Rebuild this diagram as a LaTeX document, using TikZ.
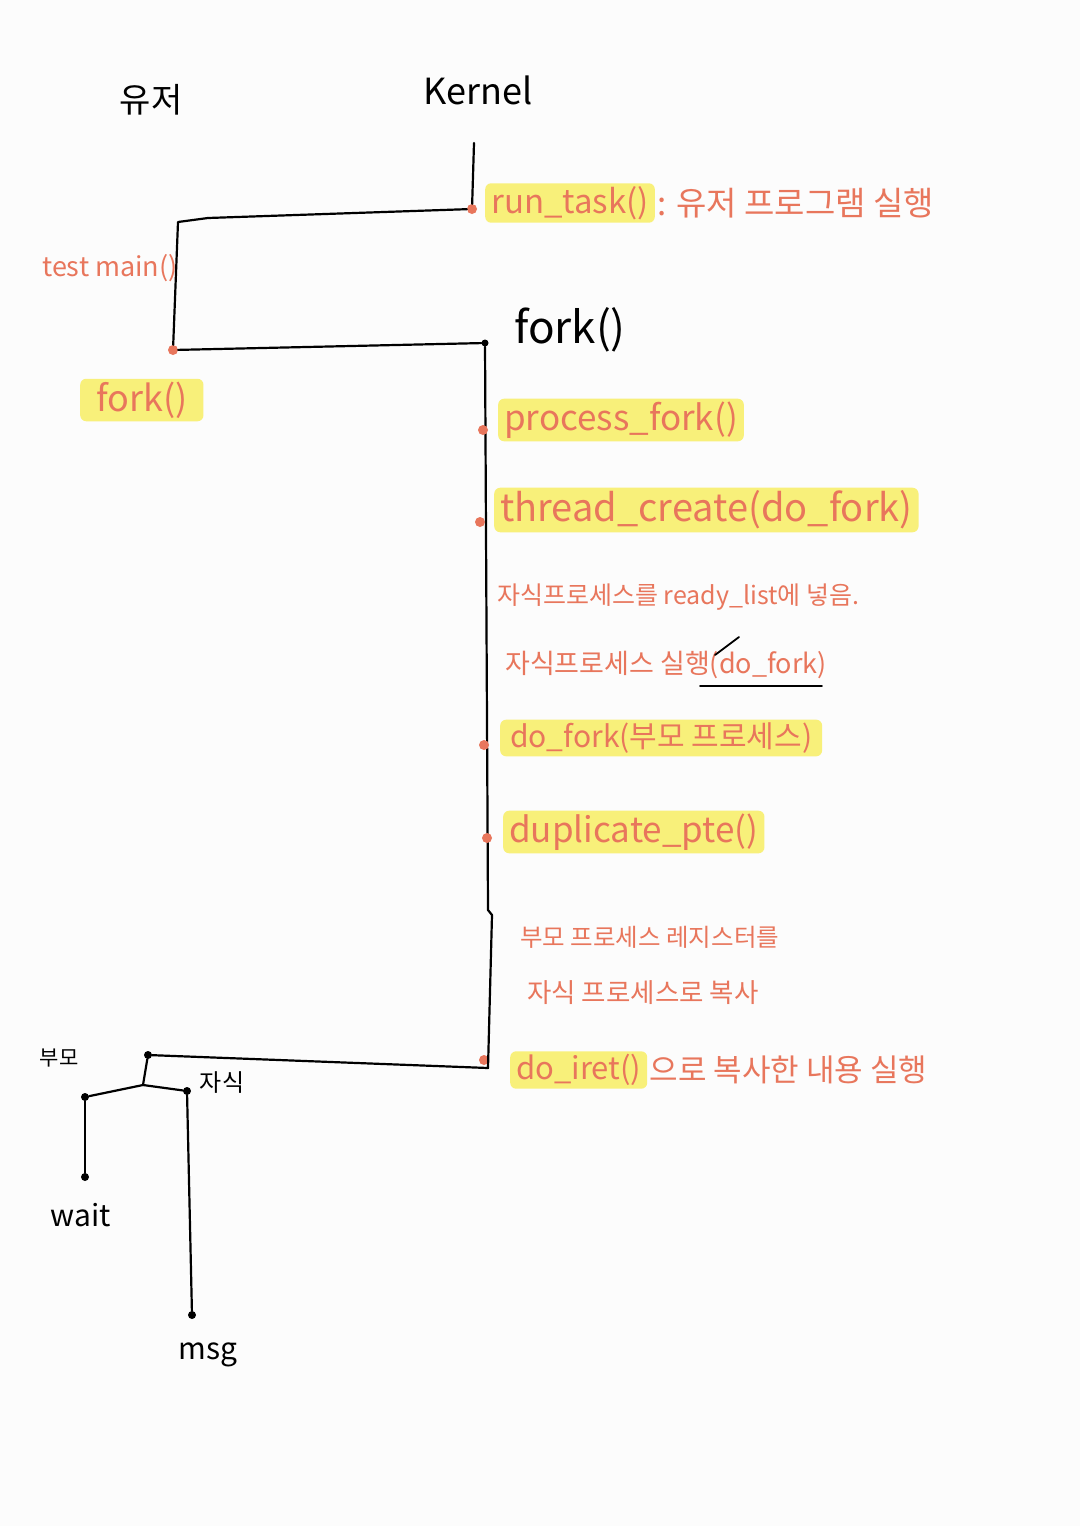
\documentclass[tikz,border=0pt]{standalone}
\usepackage{fontspec}
\setmainfont{Noto Sans CJK KR}
\definecolor{ink}{HTML}{E8765C}
\definecolor{hl}{HTML}{F8F07A}
\definecolor{paper}{HTML}{FCFCFC}
\newcommand{\fs}[1]{\fontsize{#1}{#1}\selectfont}
\begin{document}
\begin{tikzpicture}[x=1pt,y=-1pt,
  wire/.style={line width=2.2pt,black,line cap=round,line join=round},
  odot/.style={circle,fill=ink,inner sep=0pt,minimum size=10pt},
  bdot/.style={circle,fill=black,inner sep=0pt,minimum size=8pt},
  lbl/.style={text=ink,font=\fs{27},inner sep=2pt,anchor=west},
  hlbl/.style={lbl,fill=hl,rounded corners=6pt,inner ysep=3pt,inner xsep=6pt},
  blk/.style={text=black,font=\fs{28},inner sep=0pt}]
\fill[paper] (0,0) rectangle (1080,1526);
\useasboundingbox (0,0) rectangle (1080,1526);

% titles
\node[blk,font=\fs{34}] (user) at (151,100) {유저};
\node[blk,font=\fs{36}] (kernel) at (478,90) {Kernel};

% kernel wires
\coordinate (k0) at (474,143);
\node[odot] (rt) at (472,209) {};
\coordinate (tm1) at (208,218);
\coordinate (tm2) at (178,222);
\node[odot] (uf) at (173,350) {};
\node[bdot,minimum size=7pt] (kf) at (485,343) {};
\coordinate (kj1) at (488,910);
\coordinate (kj2) at (492,915);
\node[odot] (di) at (484,1060) {};
\coordinate (kb) at (488,1068);
\node[bdot] (pb) at (148,1055) {};
\coordinate (pj) at (143,1085);
\node[bdot] (pl) at (85,1097) {};
\node[bdot] (pr) at (187,1091) {};
\node[bdot] (wt) at (85,1177) {};
\node[bdot] (ms) at (192,1315) {};

\draw[wire] (k0) -- (rt);
\draw[wire] (rt) -- (tm1) -- (tm2) -- (uf);
\draw[wire] (uf) -- (kf);
\draw[wire] (kf) -- (kj1) -- (kj2) -- (kb) -- (pb);
\draw[wire] (pb) -- (pj) -- (pl);
\draw[wire] (pj) -- (pr);
\draw[wire] (pl) -- (wt);
\draw[wire] (pr) -- (ms);

% dots on the kernel line
\node[odot] (d1) at (483,430) {};
\node[odot] (d2) at (480,522) {};
\node[odot] (d3) at (484,745) {};
\node[odot] (d4) at (487,838) {};

% labels
\node[hlbl,font=\fs{33}] (runtask) at (485,203) {run\_task()};
\node[lbl,font=\fs{33}] (runtxt) at (runtask.east) {: 유저 프로그램 실행};
\node[lbl] (testmain) at (40,268) {test main()};
\node[hlbl,font=\fs{36},inner xsep=16pt] (ufork) at (80,400) {fork()};
\node[blk,anchor=west,font=\fs{44}] (kfork) at (514,330) {fork()};
\node[hlbl,font=\fs{35}] (pfork) at (498,420) {process\_fork()};
\node[hlbl,font=\fs{38}] (tcreate) at (494,510) {thread\_create(do\_fork)};
\node[lbl,font=\fs{25}] (ready) at (495,597) {자식프로세스를 ready\_list에 넣음.};
\node[lbl] (run) at (503,665) {자식프로세스 실행(do\_fork)};
\draw[wire,line width=1.8pt] (700,686) -- (822,686);
\draw[wire,line width=1.8pt] (715,655) -- (739,637);
\node[hlbl,font=\fs{30},inner xsep=10pt] (dofork) at (500,738) {do\_fork(부모 프로세스)};
\node[hlbl,font=\fs{35}] (dup) at (503,832) {duplicate\_pte()};
\node[lbl,font=\fs{24.5}] (reg1) at (518,937) {부모 프로세스 레지스터를};
\node[lbl,font=\fs{26.5}] (reg2) at (525,993) {자식 프로세스로 복사};
\node[hlbl,font=\fs{31}] (iret) at (510,1070) {do\_iret()};
\node[lbl,font=\fs{31}] (irettxt) at (iret.east) {으로 복사한 내용 실행};

\node[blk,font=\fs{21}] (parent) at (59,1058) {부모};
\node[blk,font=\fs{24}] (child) at (222,1082) {자식};
\node[blk,font=\fs{30}] (wait) at (81,1215) {wait};
\node[blk,font=\fs{30}] (msg) at (208,1355) {msg};
\end{tikzpicture}
\end{document}
